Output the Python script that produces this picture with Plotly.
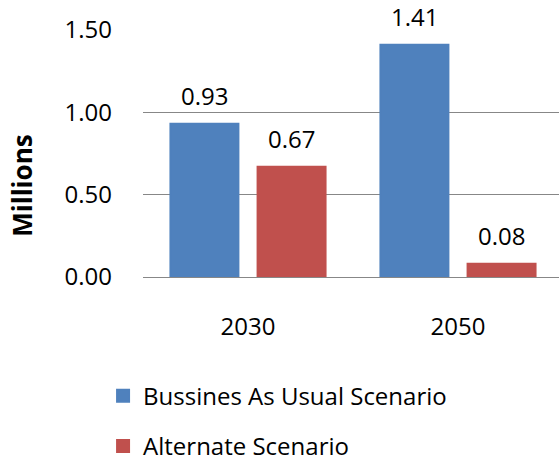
import plotly.graph_objects as go

years = ["2030", "2050"]
bau_values = [0.93, 1.41]
alt_values = [0.67, 0.08]
series_names = ["Bussines As Usual Scenario", "Alternate Scenario"]
series_colors = ["#4F81BD", "#C0504D"]
y_ticks = [0.0, 0.5, 1.0, 1.5]
y_tick_labels = ["0.00", "0.50", "1.00", "1.50"]

FONT = "Open Sans, Noto Sans, DejaVu Sans, sans-serif"
BAR_GAP = 0.17
GROUP_GAP = 0.22

fig = go.Figure()
for name, vals, col in zip(series_names, [bau_values, alt_values], series_colors):
    fig.add_trace(go.Bar(
        x=years, y=vals, name=name, legendgroup=name,
        marker=dict(color=col, line=dict(width=2, color=col)),
    ))

# value labels above each bar, placed at the bar's offset within its group
slot = (1 - BAR_GAP) / 2
for s, vals in enumerate([bau_values, alt_values]):
    off = (s - 0.5) * slot
    for ci, v in enumerate(vals):
        fig.add_annotation(
            x=ci + off, y=v, xref="x", yref="y", text=f"{v:.2f}",
            showarrow=False, yanchor="bottom", yshift=10,
            font=dict(family=FONT, size=24, color="#000000"),
        )

fig.add_annotation(
    text="<b>Millions</b>", textangle=-90, xref="paper", yref="paper",
    x=-0.293, y=0.37, xanchor="center", yanchor="middle", showarrow=False,
    font=dict(family=FONT, size=26, color="#000000"),
)

fig.update_layout(
    width=559, height=462,
    margin=dict(l=143, r=0, t=30, b=185, autoexpand=False),
    paper_bgcolor="white", plot_bgcolor="white",
    barmode="group", bargap=BAR_GAP, bargroupgap=GROUP_GAP,
    font=dict(family=FONT, size=24, color="#000000"),
    showlegend=True,
    legend=dict(
        orientation="v", x=-0.096, xanchor="left",
        yref="container", y=0.191, yanchor="top",
        font=dict(family=FONT, size=24, color="#000000"),
        tracegroupgap=16, itemwidth=30, bgcolor="rgba(0,0,0,0)",
    ),
    xaxis=dict(
        type="category", range=[-0.5, 1.481], showgrid=False, showline=False,
        ticks="", ticklabelstandoff=33, tickfont=dict(family=FONT, size=24),
    ),
    yaxis=dict(
        range=[0, 1.5], tickvals=y_ticks, ticktext=y_tick_labels,
        showgrid=True, gridcolor="#878787", gridwidth=1,
        zeroline=True, zerolinecolor="#878787", zerolinewidth=1,
        showline=False, ticks="", ticklabelstandoff=30,
        tickfont=dict(family=FONT, size=24),
    ),
)

fig.write_html("out.html")
